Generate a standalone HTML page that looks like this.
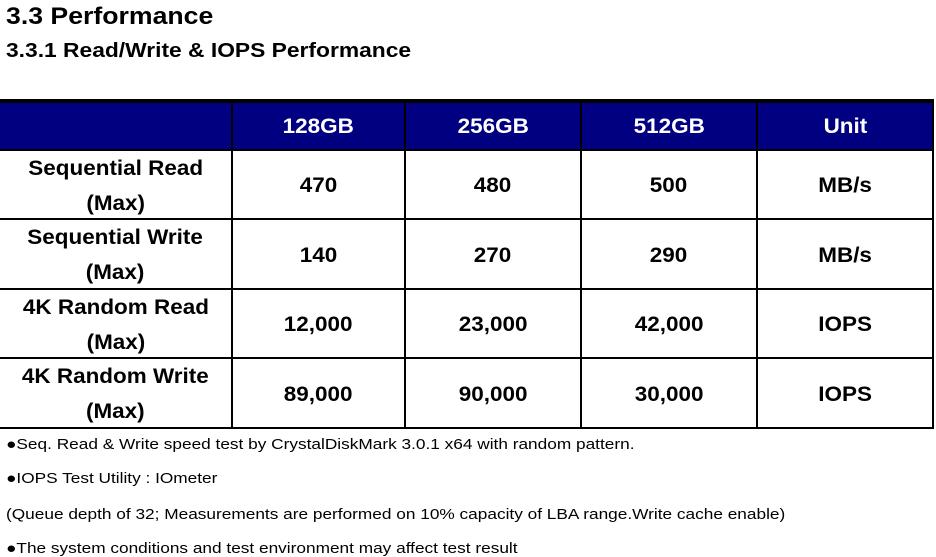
<!DOCTYPE html>
<html><head><meta charset="utf-8"><style>
body{margin:0;width:936px;height:556px;background:#fff;overflow:hidden;position:relative;font-family:"Liberation Sans",Arial,sans-serif;color:#000}
.a{position:absolute}
.s{transform-origin:left center;white-space:nowrap}
.h1{left:6px;top:3px;font-size:24px;font-weight:bold;transform:scaleX(1.11)}
.h2{left:6px;top:40px;font-size:20px;font-weight:bold;transform:scaleX(1.14)}
.thick{left:0;top:99px;width:934px;height:4px;background:#000}
.hdr{left:0;top:103px;width:934px;height:47px;background:#000080}
.hl{height:2px;background:#000;left:0;width:934px}
.vl{width:2px;background:#000;top:103px;height:326px}
.c{position:absolute;display:flex;align-items:center;justify-content:center;text-align:center;font-weight:bold;font-size:21px;line-height:35px}
.c span{display:inline-block;transform:scaleX(1.07)}
.hc{color:#fff;top:103px;height:47px}
.n{font-size:15px;left:6px;transform:scaleX(1.15)}
</style></head><body>
<div class="a s h1">3.3 Performance</div>
<div class="a s h2">3.3.1 Read/Write &amp; IOPS Performance</div>
<div>
<div class="a thick"></div>
<div class="a hdr"></div>
<div class="a hl" style="top:149px"></div>
<div class="a hl" style="top:218px"></div>
<div class="a hl" style="top:288px"></div>
<div class="a hl" style="top:357px"></div>
<div class="a hl" style="top:427px"></div>
<div class="a vl" style="left:231px"></div>
<div class="a vl" style="left:404px"></div>
<div class="a vl" style="left:580px"></div>
<div class="a vl" style="left:756px"></div>
<div class="a vl" style="left:932px"></div>
<div class="c hc" style="left:233px;width:171px"><span>128GB</span></div>
<div class="c hc" style="left:406px;width:174px"><span>256GB</span></div>
<div class="c hc" style="left:582px;width:174px"><span>512GB</span></div>
<div class="c hc" style="left:758px;width:174px"><span>Unit</span></div>
<div id="body"></div>
</div>
<div class="a s n" style="top:436px">●Seq. Read &amp; Write speed test by CrystalDiskMark 3.0.1 x64 with random pattern.</div>
<div class="a s n" style="top:470px">●IOPS Test Utility : IOmeter</div>
<div class="a s n" style="top:506px">(Queue depth of 32; Measurements are performed on 10% capacity of LBA range.Write cache enable)</div>
<div class="a s n" style="top:540px">●The system conditions and test environment may affect test result</div>
<script>
const rows=["Sequential Read<br>(Max)","Sequential Write<br>(Max)","4K Random Read<br>(Max)","4K Random Write<br>(Max)"];
const v128=["470","140","12,000","89,000"];
const v256=["480","270","23,000","90,000"];
const v512=["500","290","42,000","30,000"];
const units=["MB/s","MB/s","IOPS","IOPS"];
const tops=[151,220,290,359],hs=[67,68,67,68];
const cols=[[0,231],[233,171],[406,174],[582,174],[758,174]];
const b=document.getElementById('body');
rows.forEach((r,i)=>{
 const vals=[r,v128[i],v256[i],v512[i],units[i]];
 vals.forEach((v,j)=>{
  const d=document.createElement('div');d.className='c';
  d.style.left=cols[j][0]+'px';d.style.width=cols[j][1]+'px';
  d.style.top=(tops[i]+1)+'px';d.style.height=hs[i]+'px';
  d.innerHTML='<span>'+v+'</span>';
  
  
  b.appendChild(d);
 });
});
</script>
</body></html>
